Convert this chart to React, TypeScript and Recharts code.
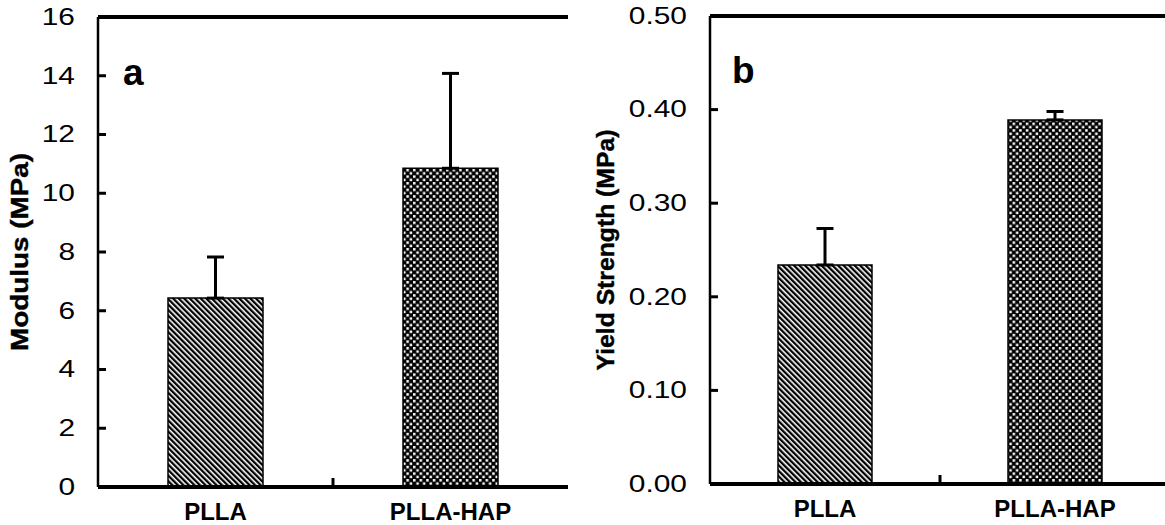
import React from "react";
import { BarChart, Bar, XAxis, YAxis, ErrorBar, Cell, ReferenceLine, Label } from "recharts";

const categories = ["PLLA", "PLLA-HAP"];

const modulusValues = [6.43, 10.85];
const modulusErrors = [1.4, 3.23];
const modulusTicks = [0, 2, 4, 6, 8, 10, 12, 14, 16];

const yieldValues = [0.234, 0.389];
const yieldErrors = [0.039, 0.009];
const yieldTicks = [0, 0.1, 0.2, 0.3, 0.4, 0.5];

const fills = ["url(#stripes)", "url(#checks)"];

const FONT = "'Liberation Sans', Arial, sans-serif";

const modulusData = categories.map((name, i) => ({
  name,
  value: modulusValues[i],
  err: [0, modulusErrors[i]],
}));

const yieldData = categories.map((name, i) => ({
  name,
  value: yieldValues[i],
  err: [0, yieldErrors[i]],
}));

const YTick = ({ x, y, payload, digits }: any) => (
  <g>
    <line x1={x} x2={x + 8} y1={y} y2={y} stroke="#000" strokeWidth={3} />
    <text
      transform={`translate(${x - 23},${y}) scale(1.3,1)`}
      textAnchor="end"
      dominantBaseline="central"
      fontSize={23}
      fontFamily={FONT}
      fill="#000"
    >
      {Number(payload.value).toFixed(digits)}
    </text>
  </g>
);

const XTick = ({ x, y, payload, index }: any) => (
  <g>
    <text x={x} y={y + 33} textAnchor="middle" fontSize={24} fontWeight="bold" fontFamily={FONT} fill="#000">
      {payload.value}
    </text>
    {index === 0 && payload.offset ? (
      <line x1={x + payload.offset} x2={x + payload.offset} y1={y} y2={y - 9} stroke="#000" strokeWidth={3} />
    ) : null}
  </g>
);

const AxisTitle = ({ viewBox, text, gap, stretch }: any) => {
  const cx = viewBox.x + viewBox.width - gap;
  const cy = viewBox.y + viewBox.height / 2;
  return (
    <text
      transform={`translate(${cx},${cy}) rotate(-90) scale(${stretch},1)`}
      textAnchor="middle"
      dominantBaseline="central"
      fontSize={24}
      fontWeight="bold"
      fontFamily={FONT}
      fill="#000"
      stroke="#000"
      strokeWidth={0.4}
    >
      {text}
    </text>
  );
};

const Panel = ({ data, ticks, digits, title, gap, stretch, barSize, margin, xHeight, width }: any) => {
  const top = ticks[ticks.length - 1];
  return (
    <BarChart width={width} height={525} data={data} margin={margin}>
      <XAxis
        dataKey="name"
        height={xHeight}
        axisLine={{ stroke: "#000", strokeWidth: 4 }}
        tickLine={false}
        tickSize={0}
        tickMargin={0}
        interval={0}
        tick={(p: any) => <XTick {...p} />}
      />
      <YAxis
        domain={[0, top]}
        ticks={ticks}
        width={60}
        axisLine={{ stroke: "#000", strokeWidth: 2.5 }}
        tickLine={false}
        tickSize={0}
        tickMargin={0}
        interval={0}
        tick={(p: any) => <YTick {...p} digits={digits} />}
      >
        <Label content={(p: any) => <AxisTitle {...p} text={title} gap={gap} stretch={stretch} />} />
      </YAxis>
      <YAxis
        yAxisId="frame"
        orientation="right"
        domain={[0, top]}
        width={0}
        tick={false}
        tickLine={false}
        axisLine={{ stroke: "#000", strokeWidth: 2 }}
      />
      <ReferenceLine y={top} stroke="#000" strokeWidth={4} />
      <Bar dataKey="value" barSize={barSize} stroke="#000" strokeWidth={1.5} isAnimationActive={false}>
        {data.map((d: any, i: number) => (
          <Cell key={d.name} fill={fills[i]} />
        ))}
        <ErrorBar dataKey="err" width={8.5} stroke="#000" strokeWidth={3} direction="y" isAnimationActive={false} />
      </Bar>
    </BarChart>
  );
};

export default function App() {
  return (
    <div style={{ position: "absolute", left: 0, top: 0, width: 1165, height: 525, overflow: "hidden", background: "#fff" }}>
      <svg width={0} height={0} style={{ position: "absolute" }}>
        <defs>
          <pattern id="stripes" patternUnits="userSpaceOnUse" width={3.9} height={3.9} patternTransform="rotate(-45)">
            <rect x={0} y={0} width={3.9} height={3.9} fill="#fff" />
            <rect x={0} y={0} width={2.3} height={3.9} fill="#000" />
          </pattern>
          <pattern id="checks" patternUnits="userSpaceOnUse" width={6.6} height={6.6}>
            <rect x={0} y={0} width={6.6} height={6.6} fill="#000" />
            <rect x={0.5} y={0.5} width={2.5} height={2.5} fill="#fff" />
            <rect x={3.8} y={3.8} width={2.5} height={2.5} fill="#fff" />
          </pattern>
        </defs>
      </svg>
      <div style={{ position: "absolute", left: 0, top: 0 }}>
        <Panel
          data={modulusData}
          ticks={modulusTicks}
          digits={0}
          title="Modulus (MPa)"
          gap={78}
          stretch={1.16}
          barSize={95}
          width={600}
          xHeight={38}
          margin={{ top: 17, right: 32, bottom: 0, left: 38 }}
        />
      </div>
      <div style={{ position: "absolute", left: 560, top: 0 }}>
        <Panel
          data={yieldData}
          ticks={yieldTicks}
          digits={2}
          title="Yield Strength (MPa)"
          gap={104}
          stretch={1.03}
          barSize={94}
          width={620}
          xHeight={41}
          margin={{ top: 16, right: 10, bottom: 0, left: 90 }}
        />
      </div>
      <svg width={1165} height={525} style={{ position: "absolute", left: 0, top: 0, pointerEvents: "none" }}>
        <text x={123} y={85} fontSize={37} fontWeight="bold" fontFamily={FONT} fill="#000">a</text>
        <text x={732} y={83} fontSize={37} fontWeight="bold" fontFamily={FONT} fill="#000">b</text>
      </svg>
    </div>
  );
}
